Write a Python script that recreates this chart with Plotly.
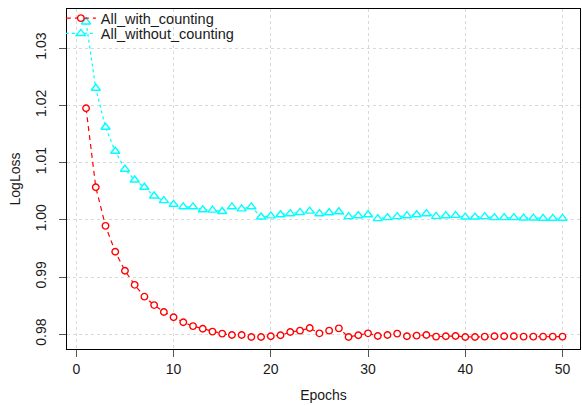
import plotly.graph_objects as go

epochs = list(range(1, 51))

with_counting = [
    1.0195, 1.0057, 0.99894, 0.99442, 0.99110, 0.98863, 0.98656, 0.98509, 0.98388, 0.98296,
    0.98210, 0.98141, 0.98096, 0.98045, 0.98010, 0.97986, 0.97986, 0.97952, 0.97952, 0.97964,
    0.97981, 0.98038, 0.98062, 0.98107, 0.98015, 0.98062, 0.98101, 0.97952, 0.97981, 0.98015,
    0.97969, 0.97986, 0.98010, 0.97964, 0.97975, 0.97986, 0.97958, 0.97964, 0.97969, 0.97952,
    0.97952, 0.97958, 0.97964, 0.97964, 0.97964, 0.97958, 0.97958, 0.97958, 0.97958, 0.97958,
]

without_counting = [
    1.0346, 1.0230, 1.01618, 1.01199, 1.00885, 1.00696, 1.00570, 1.00416, 1.00335, 1.00271,
    1.00227, 1.00227, 1.00175, 1.00170, 1.00146, 1.00227, 1.00192, 1.00227, 1.00050, 1.00068,
    1.00089, 1.00107, 1.00129, 1.00151, 1.00107, 1.00124, 1.00141, 1.00055, 1.00072, 1.00089,
    1.00021, 1.00038, 1.00055, 1.00072, 1.00089, 1.00107, 1.00060, 1.00072, 1.00077, 1.00048,
    1.00048, 1.00055, 1.00038, 1.00038, 1.00038, 1.00031, 1.00031, 1.00026, 1.00026, 1.00026,
]

x_ticks = [0, 10, 20, 30, 40, 50]
y_ticks = [0.98, 0.99, 1.00, 1.01, 1.02, 1.03]
y_tick_labels = ["0.98", "0.99", "1.00", "1.01", "1.02", "1.03"]

FONT = "Liberation Sans, Arial, Helvetica, sans-serif"

fig = go.Figure()
fig.add_trace(go.Scatter(
    x=epochs, y=with_counting, name="All_with_counting",
    mode="lines+markers", legend="legend",
    line=dict(color="#FF0000", width=1.2, dash="5px,4px"),
    marker=dict(symbol="circle", size=6.5, color="white",
                line=dict(color="#FF0000", width=1.4)),
))
fig.add_trace(go.Scatter(
    x=epochs, y=without_counting, name="All_without_counting",
    mode="lines+markers", legend="legend2",
    line=dict(color="#00FFFF", width=1.2, dash="dot"),
    marker=dict(symbol="triangle-up", size=8, color="white",
                line=dict(color="#00FFFF", width=1.4)),
))

legend_style = dict(xanchor="left", yanchor="top",
                    bgcolor="rgba(0,0,0,0)", borderwidth=0,
                    font=dict(family=FONT, size=14.5, color="#1a1a1a"),
                    itemwidth=30)

fig.update_layout(
    width=582, height=406,
    margin=dict(l=67, r=2, t=3, b=57),
    paper_bgcolor="white", plot_bgcolor="white",
    font=dict(family=FONT, size=14, color="#1a1a1a"),
    showlegend=True,
    legend=dict(x=-0.012, y=1.02, **legend_style),
    legend2=dict(x=-0.012, y=0.975, **legend_style),
)
fig.update_xaxes(
    range=[-0.96, 51.8], tickvals=x_ticks, automargin=False,
    showgrid=True, gridcolor="#d9d9d9", griddash="dot", gridwidth=1,
    showline=True, linecolor="black", linewidth=1, mirror=True,
    ticks="outside", ticklen=7, tickcolor="#555555", tickwidth=1,
    zeroline=False,
    title=dict(text="Epochs", font=dict(size=14), standoff=14),
    tickfont=dict(size=14),
)
fig.update_yaxes(
    range=[0.97741, 1.03686], tickvals=y_ticks, ticktext=y_tick_labels,
    tickangle=-90, automargin=False, ticklabelstandoff=7,
    showgrid=True, gridcolor="#d9d9d9", griddash="dot", gridwidth=1,
    showline=True, linecolor="black", linewidth=1, mirror=True,
    ticks="outside", ticklen=7, tickcolor="#555555", tickwidth=1,
    zeroline=False,
    title=dict(text="LogLoss", font=dict(size=14), standoff=9),
    tickfont=dict(size=14),
)

fig.write_html("out.html",
               config={"displayModeBar": False},
               post_script="document.body.style.margin='0';document.body.style.overflow='hidden';")
